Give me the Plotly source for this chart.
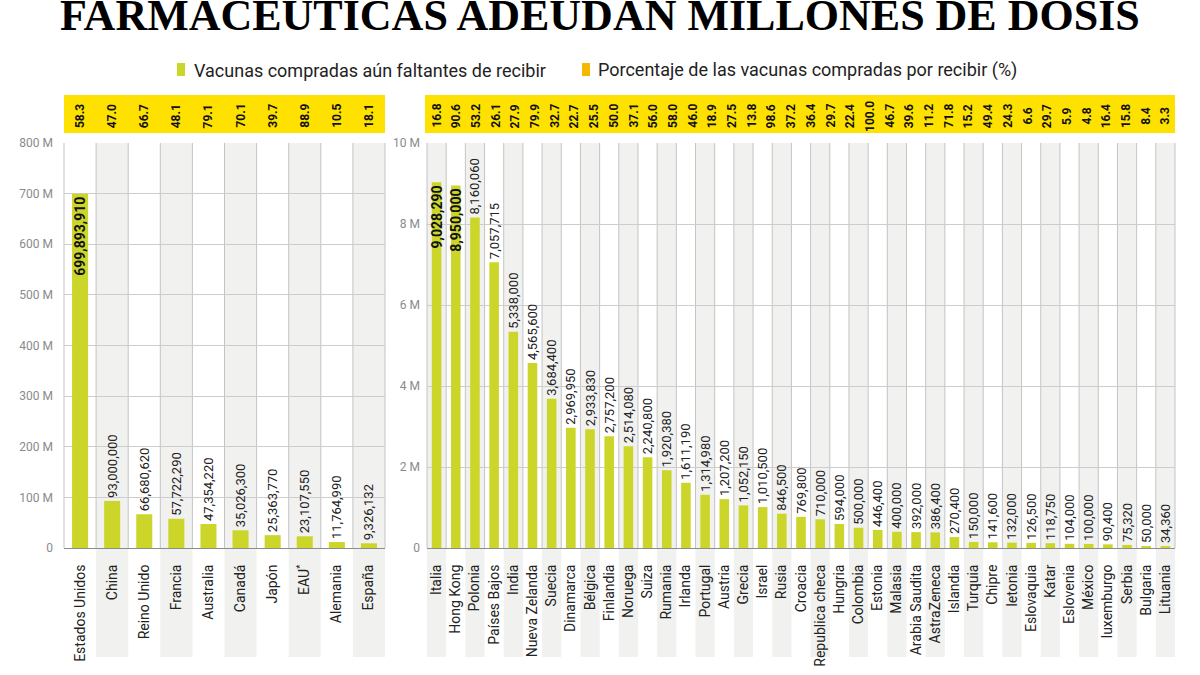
import plotly.graph_objects as go

# --- data ---------------------------------------------------------------
left_countries = ["Estados Unidos", "China", "Reino Unido", "Francia", "Australia",
                  "Canadá", "Japón", "EAU<sup>*</sup>", "Alemania", "España"]
left_doses = [699893910, 93000000, 66680620, 57722290, 47354220,
              35026300, 25363770, 23107550, 11764990, 9326132]
left_pct = [58.3, 47.0, 66.7, 48.1, 79.1, 70.1, 39.7, 88.9, 10.5, 18.1]

right_countries = ["Italia", "Hong Kong", "Polonia", "Países Bajos", "India",
                   "Nueva Zelanda", "Suecia", "Dinamarca", "Bélgica", "Finlandia",
                   "Noruega", "Suiza", "Rumania", "Irlanda", "Portugal", "Austria",
                   "Grecia", "Israel", "Rusia", "Croacia", "Republica checa", "Hungria",
                   "Colombia", "Estonia", "Malasia", "Arabia Saudita", "AstraZeneca",
                   "Islandia", "Turquia", "Chipre", "letonia", "Eslovaquia", "Katar",
                   "Eslovenia", "México", "luxemburgo", "Serbia", "Bulgaria", "Lituania"]
right_doses = [9028290, 8950000, 8160060, 7057715, 5338000, 4565600, 3684400,
               2969950, 2933830, 2757200, 2514080, 2240800, 1920380, 1611190,
               1314980, 1207200, 1052150, 1010500, 846500, 769800, 710000, 594000,
               500000, 446400, 400000, 392000, 386400, 270400, 150000, 141600,
               132000, 126500, 118750, 104000, 100000, 90400, 75320, 50000, 34360]
# the source row has one value fewer than the columns
right_pct = [16.8, 90.6, 53.2, 26.1, 27.9, 79.9, 32.7, 22.7, 25.5, 50.0, 37.1, 56.0,
             58.0, 46.0, 18.9, 27.5, 13.8, 98.6, 37.2, 36.4, 29.7, 22.4, 100.0, 46.7,
             39.6, 11.2, 71.8, 15.2, 49.4, 24.3, 6.6, 29.7, 5.9, 4.8, 16.4, 15.8, 8.4, 3.3]

left_ticks = [0, 100e6, 200e6, 300e6, 400e6, 500e6, 600e6, 700e6, 800e6]
left_ticktext = ["0", "100 M", "200 M", "300 M", "400 M", "500 M", "600 M", "700 M", "800 M"]
right_ticks = [0, 2e6, 4e6, 6e6, 8e6, 10e6]
right_ticktext = ["0", "2 M", "4 M", "6 M", "8 M", "10 M"]

BAR = "#ccd62a"
BAND = "#ffe100"
STRIPE = "#f1f1f0"
GRID = "#cdcdcd"
W, H = 1200, 675


def px_x(v):
    return v / W


def px_y(v):
    return 1 - v / H


def bar_trace(names, values, xa, ya, n_bold):
    pos = ["inside" if i < n_bold else "outside" for i in range(len(values))]
    return go.Bar(
        x=names, y=values, xaxis=xa, yaxis=ya,
        marker=dict(color=BAR, line=dict(width=0)),
        width=0.5,
        text=[f"{v:,}" for v in values],
        textposition=pos,
        textangle=-90,
        insidetextanchor="end",
        constraintext="none",
        cliponaxis=False,
        insidetextfont=dict(family="Roboto", size=14, color="#111", weight="bold"),
        outsidetextfont=dict(family="Roboto", size=13, color="#222"),
        hoverinfo="x+y",
        showlegend=False,
    )


fig = go.Figure()
fig.add_trace(bar_trace(left_countries, left_doses, "x", "y", 1))
fig.add_trace(bar_trace(right_countries, right_doses, "x2", "y2", 2))

plot_top, plot_bot = 143, 548
left_dom = [px_x(64), px_x(385)]
right_dom = [px_x(427), px_x(1175)]
ydom = [px_y(plot_bot), px_y(plot_top)]

axis_font = dict(family="Roboto", size=12, color="#8a8a8a")
xlab_font = dict(family="Roboto", size=14, color="#222")

common_x = dict(type="category", tickangle=-90, ticks="", showgrid=False,
                showline=True, linecolor="#8c8c8c", linewidth=1, tickfont=xlab_font,
                ticklabelstandoff=10, automargin=False, zeroline=False, fixedrange=True)
common_y = dict(ticks="", showgrid=True, gridcolor=GRID, gridwidth=1, zeroline=False,
                showline=False, tickfont=axis_font, automargin=False, fixedrange=True)

fig.update_layout(
    xaxis=dict(domain=left_dom, anchor="y", **common_x),
    yaxis=dict(domain=ydom, anchor="x", range=[0, 800e6], tickvals=left_ticks,
               ticktext=left_ticktext, ticklabelstandoff=10, **common_y),
    xaxis2=dict(domain=right_dom, anchor="y2", **common_x),
    yaxis2=dict(domain=ydom, anchor="x2", range=[0, 10e6], tickvals=right_ticks,
                ticktext=right_ticktext, ticklabelstandoff=6, **common_y),
)

shapes = []
annotations = []

for xa, n in (("x", len(left_countries)), ("x2", len(right_countries))):
    first_gray = 1 if xa == "x" else 0
    # alternating column stripes, running down behind the labels
    for i in range(first_gray, n, 2):
        shapes.append(dict(type="rect", xref=f"{xa} domain", yref="paper",
                           x0=i / n, x1=(i + 1) / n, y0=px_y(657), y1=px_y(plot_top),
                           fillcolor=STRIPE, line=dict(width=0), layer="below"))
    # column separators
    for i in range(n + 1):
        shapes.append(dict(type="line", xref=f"{xa} domain", yref="paper",
                           x0=i / n, x1=i / n, y0=px_y(plot_bot), y1=px_y(plot_top),
                           line=dict(color="#c4c4c4", width=1), layer="below"))

# yellow bands with percentages
shapes.append(dict(type="rect", xref="paper", yref="paper", x0=px_x(64), x1=px_x(385),
                   y0=px_y(133), y1=px_y(95), fillcolor=BAND, line=dict(width=0)))
shapes.append(dict(type="rect", xref="paper", yref="paper", x0=px_x(425), x1=px_x(1175),
                   y0=px_y(133), y1=px_y(95), fillcolor=BAND, line=dict(width=0)))

pct_font = dict(family="Roboto", size=12, color="#111", weight="bold")
n_left = len(left_countries)
for i, p in enumerate(left_pct):
    annotations.append(dict(xref="x domain", yref="paper", x=(i + 0.5) / n_left,
                            y=px_y(116), xanchor="center", yanchor="middle",
                            text=f"{p:.1f}", textangle=-90,
                            showarrow=False, font=pct_font))
n_right = len(right_countries)
step = (n_right - 1) / (len(right_pct) - 1)
for k, p in enumerate(right_pct):
    annotations.append(dict(xref="x2 domain", yref="paper", x=(k * step + 0.5) / n_right,
                            y=px_y(116), xanchor="center", yanchor="middle",
                            text=f"{p:.1f}", textangle=-90,
                            showarrow=False, font=pct_font))

# title (clipped at the top like the source)
annotations.append(dict(xref="paper", yref="paper", x=0.5, y=px_y(42), yanchor="bottom",
                        text="FARMACEUTICAS ADEUDAN MILLONES DE DOSIS", showarrow=False,
                        font=dict(family="Liberation Serif", size=44, color="#000", weight="bold")))

# legend
leg_font = dict(family="Roboto", size=18, color="#222")
shapes.append(dict(type="rect", xref="paper", yref="paper", x0=px_x(177), x1=px_x(185),
                   y0=px_y(76), y1=px_y(63), fillcolor=BAR, line=dict(width=0)))
annotations.append(dict(xref="paper", yref="paper", x=px_x(192), y=px_y(70),
                        xanchor="left", yanchor="middle",
                        text="Vacunas compradas aún faltantes de recibir", showarrow=False,
                        font=leg_font))
shapes.append(dict(type="rect", xref="paper", yref="paper", x0=px_x(582), x1=px_x(590),
                   y0=px_y(76), y1=px_y(63), fillcolor="#f5b800", line=dict(width=0)))
annotations.append(dict(xref="paper", yref="paper", x=px_x(596), y=px_y(70),
                        xanchor="left", yanchor="middle",
                        text="Porcentaje de las vacunas compradas por recibir (%)",
                        showarrow=False, font=leg_font))

fig.update_layout(
    width=W, height=H,
    margin=dict(l=0, r=0, t=0, b=0),
    paper_bgcolor="white", plot_bgcolor="rgba(0,0,0,0)",
    shapes=shapes, annotations=annotations,
    bargap=0.5, showlegend=False,
)

fig.write_html("out.html", config={"displayModeBar": False},
               post_script="document.body.style.margin='0';")
